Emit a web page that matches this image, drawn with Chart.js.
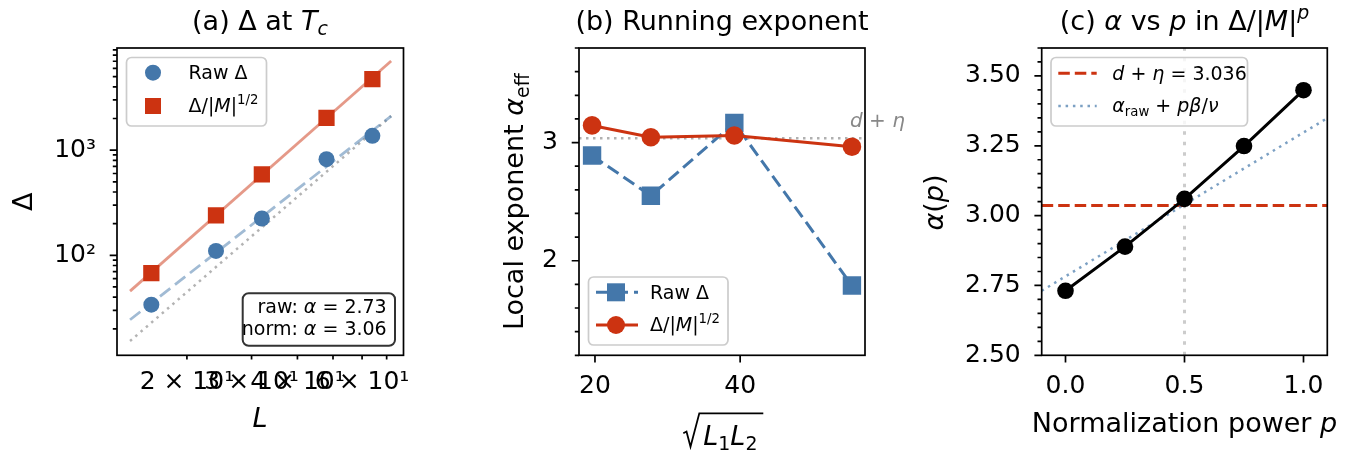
<!DOCTYPE html>
<html>
<head>
<meta charset="utf-8">
<script src="https://cdn.jsdelivr.net/npm/chart.js@4.4.0/dist/chart.umd.min.js"></script>
<style>
  html, body { margin: 0; padding: 0; background: #fff; }
  #wrap { position: relative; width: 1353px; height: 451px; }
  canvas { position: absolute; left: 0; top: 0; }
</style>
</head>
<body>
<div id="wrap">
  <canvas id="panelA" width="1353" height="451"></canvas>
  <canvas id="panelB" width="1353" height="451"></canvas>
  <canvas id="panelC" width="1353" height="451"></canvas>
</div>
<script>
const BLUE = '#4477aa';
const RED = '#cc3311';
const FONT = 'DejaVu Sans';
const W = 1353, H = 451;
const YW = 110, XH = 50;

// (a) gap at Tc vs L
const L_SIZES = [16, 24, 32, 48, 64];
const DELTA_RAW = [33.9, 110, 224, 821, 1368];
const DELTA_NORM = [67.8, 240, 588, 2030, 4740];
const FIT_L = [14, 72];
const FIT_RAW = [24.4, 2110];
const FIT_NORM = [45.7, 7050];
const FIT_REF = [15.3, 2110];
const A_XTICKS = [20, 30, 40, 60];
const A_XLABELS = ['2 × 10¹', '3 × 10¹', '4 × 10¹', '6 × 10¹'];
const A_XMINOR = [20, 30, 40, 50, 60, 70];
const A_YTICKS = [100, 1000];
const A_YLABELS = ['10²', '10³'];
const A_YMINOR = [20, 30, 40, 50, 60, 70, 80, 90, 200, 300, 400, 500, 600, 700, 800, 900,
                  2000, 3000, 4000, 5000, 6000, 7000, 8000, 9000];

// (b) running exponent
const L_MID = [19.6, 27.7, 39.2, 55.4];
const ALPHA_LOC_RAW = [2.89, 2.55, 3.165, 1.79];
const ALPHA_LOC_NORM = [3.145, 3.045, 3.06, 2.965];
const D_PLUS_ETA = 3.036;
const B_XRANGE = [17.8, 57.2];
const B_XTICKS = [20, 40];
const B_YTICKS = [2, 3];
const B_YMINOR = [1.2, 1.4, 1.6, 1.8, 2.2, 2.4, 2.6, 2.8, 3.2, 3.4, 3.6, 3.8];

// (c) alpha vs normalization power
const P_VALUES = [0, 0.25, 0.5, 0.75, 1.0];
const ALPHA_P = [2.731, 2.889, 3.06, 3.249, 3.449];
const PRED_P = [-0.1, 1.1];
const PRED_ALPHA = [2.731, 3.349];
const C_XTICKS = [0, 0.5, 1.0];
const C_YTICKS = [2.5, 2.75, 3.0, 3.25, 3.5];
const C_YMINOR = [2.55, 2.6, 2.65, 2.7, 2.8, 2.85, 2.9, 2.95, 3.05, 3.1, 3.15, 3.2,
                  3.3, 3.35, 3.4, 3.45, 3.55, 3.6];

function pts(xs, ys) {
    return xs.map((x, i) => ({x: x, y: ys[i]}));
}

// text with italic / super / subscript pieces: [text, flags]
function setFont(ctx, flags, size) {
    const small = flags.includes('^') || flags.includes('_');
    const s = small ? size * 0.7 : size;
    ctx.font = (flags.includes('i') ? 'italic ' : '') + s + 'px "' + FONT + '"';
}

function drawRich(ctx, parts, x, y, align, size, color) {
    let w = 0;
    parts.forEach(p => { setFont(ctx, p[1] || '', size); w += ctx.measureText(p[0]).width; });
    let cx = align === 'center' ? x - w / 2 : (align === 'right' ? x - w : x);
    ctx.fillStyle = color;
    ctx.textAlign = 'left';
    ctx.textBaseline = 'alphabetic';
    parts.forEach(p => {
        const f = p[1] || '';
        setFont(ctx, f, size);
        const dy = f.includes('^') ? -size * 0.42 : (f.includes('_') ? size * 0.2 : 0);
        ctx.fillText(p[0], cx, y + dy);
        cx += ctx.measureText(p[0]).width;
    });
}

function drawRotated(ctx, parts, x, y, size) {
    ctx.save();
    ctx.translate(x, y);
    ctx.rotate(-Math.PI / 2);
    drawRich(ctx, parts, 0, 0, 'center', size, '#000');
    ctx.restore();
}

function drawFrame(chart) {
    const {ctx, chartArea: a} = chart;
    ctx.save();
    ctx.strokeStyle = '#000';
    ctx.lineWidth = 1.7;
    ctx.strokeRect(a.left, a.top, a.right - a.left, a.bottom - a.top);
    ctx.restore();
}

function drawTickMarks(chart, axis, values, len) {
    const {ctx, chartArea: a} = chart;
    const s = chart.scales[axis];
    ctx.save();
    ctx.strokeStyle = '#000';
    ctx.lineWidth = 1.7;
    ctx.beginPath();
    values.forEach(v => {
        const p = s.getPixelForValue(v);
        if (axis === 'x') { ctx.moveTo(p, a.bottom); ctx.lineTo(p, a.bottom + len); }
        else { ctx.moveTo(a.left, p); ctx.lineTo(a.left - len, p); }
    });
    ctx.stroke();
    ctx.restore();
}

function roundBox(ctx, x, y, w, h, r, fill, stroke, lw) {
    ctx.save();
    ctx.beginPath();
    ctx.moveTo(x + r, y);
    ctx.arcTo(x + w, y, x + w, y + h, r);
    ctx.arcTo(x + w, y + h, x, y + h, r);
    ctx.arcTo(x, y + h, x, y, r);
    ctx.arcTo(x, y, x + w, y, r);
    ctx.closePath();
    ctx.fillStyle = fill;
    ctx.fill();
    ctx.strokeStyle = stroke;
    ctx.lineWidth = lw;
    ctx.stroke();
    ctx.restore();
}

function sampleLine(ctx, x0, x1, y, color, lw, dash) {
    ctx.save();
    ctx.strokeStyle = color;
    ctx.lineWidth = lw;
    ctx.setLineDash(dash);
    ctx.beginPath();
    ctx.moveTo(x0, y);
    ctx.lineTo(x1, y);
    ctx.stroke();
    ctx.restore();
}

function dot(ctx, x, y, r, color) {
    ctx.fillStyle = color;
    ctx.beginPath();
    ctx.arc(x, y, r, 0, Math.PI * 2);
    ctx.fill();
}

function square(ctx, x, y, side, color) {
    ctx.fillStyle = color;
    ctx.fillRect(x - side / 2, y - side / 2, side, side);
}

function axisOpts(type, min, max, majors, labels, pad, horizontal) {
    return {
        type: type,
        min: min,
        max: max,
        grid: {display: false, drawTicks: false},
        border: {display: false},
        afterBuildTicks: s => { s.ticks = majors.map(v => ({value: v})); },
        afterFit: s => { if (horizontal) s.height = XH; else s.width = YW; },
        ticks: {
            autoSkip: false,
            maxRotation: 0,
            minRotation: 0,
            padding: pad,
            color: '#000',
            font: {family: FONT, size: 25},
            callback: (v, i) => labels[i]
        }
    };
}

function layoutFor(left, right, top, bottom) {
    return {padding: {left: left - YW, right: W - right, top: top, bottom: H - bottom - XH}};
}

const baseOpts = {
    responsive: false,
    animation: false,
    events: [],
    plugins: {legend: {display: false}, tooltip: {enabled: false}, title: {display: false}}
};

// ---------- (a)
new Chart(document.getElementById('panelA'), {
    type: 'scatter',
    data: {
        datasets: [
            {data: pts(L_SIZES, DELTA_NORM), pointStyle: 'rect', pointRadius: 11.5,
             pointBackgroundColor: RED, pointBorderWidth: 0},
            {data: pts(L_SIZES, DELTA_RAW), pointStyle: 'circle', pointRadius: 8,
             pointBackgroundColor: BLUE, pointBorderWidth: 0},
            {data: pts(FIT_L, FIT_NORM), showLine: true, borderColor: 'rgba(204,51,17,0.5)',
             borderWidth: 2.8, pointRadius: 0},
            {data: pts(FIT_L, FIT_RAW), showLine: true, borderColor: 'rgba(68,119,170,0.5)',
             borderWidth: 2.8, borderDash: [13, 6], pointRadius: 0},
            {data: pts(FIT_L, FIT_REF), showLine: true, borderColor: 'rgba(128,128,128,0.6)',
             borderWidth: 2.5, borderDash: [2.5, 4.5], pointRadius: 0}
        ]
    },
    options: Object.assign({}, baseOpts, {
        layout: layoutFor(117, 403.5, 48, 355.3),
        scales: {
            x: axisOpts('logarithmic', 12.9, 77.8, A_XTICKS, A_XLABELS, 12, true),
            y: axisOpts('logarithmic', 11.2, 9360, A_YTICKS, A_YLABELS, 21, false)
        }
    }),
    plugins: [{
        id: 'decorA',
        afterDraw(chart) {
            const ctx = chart.ctx;
            drawFrame(chart);
            drawTickMarks(chart, 'x', A_XMINOR, 4.2);
            drawTickMarks(chart, 'y', A_YTICKS, 7.3);
            drawTickMarks(chart, 'y', A_YMINOR, 4.2);
            drawRich(ctx, [['(a) Δ at '], ['T', 'i'], ['c', 'i_']], 260, 30, 'center', 27, '#000');
            drawRich(ctx, [['L', 'i']], 260, 426.5, 'center', 27, '#000');
            drawRotated(ctx, [['Δ']], 31.7, 201.7, 27);
            // legend
            roundBox(ctx, 126.5, 57.5, 140, 68.5, 5, 'rgba(255,255,255,0.8)', '#cccccc', 1.7);
            dot(ctx, 153, 72.7, 8, BLUE);
            drawRich(ctx, [['Raw Δ']], 188.5, 78.5, 'left', 19, '#000');
            square(ctx, 153, 106, 16, RED);
            drawRich(ctx, [['Δ/|'], ['M', 'i'], ['|'], ['1/2', '^']], 188.5, 111.7, 'left', 19, '#000');
            // fit box
            roundBox(ctx, 242.7, 293.3, 152.3, 52.4, 6, '#fff', '#333333', 2);
            drawRich(ctx, [['raw: '], ['α', 'i'], [' = 2.73']], 386.7, 313, 'right', 19, '#000');
            drawRich(ctx, [['norm: '], ['α', 'i'], [' = 3.06']], 386.7, 335, 'right', 19, '#000');
        }
    }]
});

// ---------- (b)
new Chart(document.getElementById('panelB'), {
    type: 'scatter',
    data: {
        datasets: [
            {data: pts(L_MID, ALPHA_LOC_NORM), showLine: true, borderColor: RED, borderWidth: 3,
             pointStyle: 'circle', pointRadius: 9.3, pointBackgroundColor: RED, pointBorderWidth: 0},
            {data: pts(L_MID, ALPHA_LOC_RAW), showLine: true, borderColor: BLUE, borderWidth: 3,
             borderDash: [13, 6], pointStyle: 'rect', pointRadius: 13,
             pointBackgroundColor: BLUE, pointBorderWidth: 0},
            {data: pts(B_XRANGE, [D_PLUS_ETA, D_PLUS_ETA]), showLine: true, borderColor: '#b0b0b0',
             borderWidth: 2.5, borderDash: [2.5, 4.5], pointRadius: 0}
        ]
    },
    options: Object.assign({}, baseOpts, {
        layout: layoutFor(579, 865, 48, 355.3),
        scales: {
            x: axisOpts('linear', B_XRANGE[0], B_XRANGE[1], B_XTICKS, B_XTICKS.map(String), 16, true),
            y: axisOpts('linear', 1.2, 3.8, B_YTICKS, B_YTICKS.map(String), 21, false)
        }
    }),
    plugins: [{
        id: 'decorB',
        afterDraw(chart) {
            const ctx = chart.ctx;
            drawFrame(chart);
            drawTickMarks(chart, 'x', B_XTICKS, 7.3);
            drawTickMarks(chart, 'y', B_YTICKS, 7.3);
            drawTickMarks(chart, 'y', B_YMINOR, 4.2);
            drawRich(ctx, [['(b) Running exponent']], 722, 30, 'center', 27, '#000');
            drawRotated(ctx, [['Local exponent '], ['α', 'i'], ['eff', '_']], 523.3, 201.7, 27);
            drawRich(ctx, [['d', 'i'], [' + '], ['η', 'i']], 850, 127, 'left', 20, '#888888');
            // sqrt(L1 L2)
            ctx.save();
            ctx.strokeStyle = '#000';
            ctx.lineWidth = 1.8;
            ctx.beginPath();
            ctx.moveTo(683.3, 433.3);
            ctx.lineTo(686.5, 431.5);
            ctx.lineTo(690.5, 446.7);
            ctx.lineTo(699.3, 413.3);
            ctx.lineTo(763.3, 413.3);
            ctx.stroke();
            ctx.restore();
            drawRich(ctx, [['L', 'i'], ['1', '_'], ['L', 'i'], ['2', '_']], 703.3, 445, 'left', 27, '#000');
            // legend
            roundBox(ctx, 588.5, 277, 139.5, 68, 5, 'rgba(255,255,255,0.8)', '#cccccc', 1.7);
            sampleLine(ctx, 596, 638, 292.3, BLUE, 3, [13, 6]);
            square(ctx, 616, 292.3, 18, BLUE);
            drawRich(ctx, [['Raw Δ']], 650, 298.5, 'left', 19, '#000');
            sampleLine(ctx, 596, 638, 325, RED, 3, []);
            dot(ctx, 616, 325, 9, RED);
            drawRich(ctx, [['Δ/|'], ['M', 'i'], ['|'], ['1/2', '^']], 650, 330.5, 'left', 19, '#000');
        }
    }]
});

// ---------- (c)
new Chart(document.getElementById('panelC'), {
    type: 'scatter',
    data: {
        datasets: [
            {data: pts(P_VALUES, ALPHA_P), showLine: true, borderColor: '#000', borderWidth: 3,
             pointStyle: 'circle', pointRadius: 8.3, pointBackgroundColor: '#000', pointBorderWidth: 0},
            {data: pts(PRED_P, PRED_ALPHA), showLine: true, borderColor: 'rgba(68,119,170,0.7)',
             borderWidth: 2.5, borderDash: [2.5, 4.8], pointRadius: 0},
            {data: pts(PRED_P, [D_PLUS_ETA, D_PLUS_ETA]), showLine: true, borderColor: RED,
             borderWidth: 3, borderDash: [11.5, 5], pointRadius: 0},
            {data: pts([0.5, 0.5], [2.5, 3.6]), showLine: true, borderColor: '#cccccc',
             borderWidth: 3, borderDash: [3.5, 7], pointRadius: 0}
        ]
    },
    options: Object.assign({}, baseOpts, {
        layout: layoutFor(1041.7, 1327.3, 48, 355.3),
        scales: {
            x: axisOpts('linear', -0.1, 1.1, C_XTICKS, C_XTICKS.map(v => v.toFixed(1)), 16, true),
            y: axisOpts('linear', 2.5, 3.6, C_YTICKS, C_YTICKS.map(v => v.toFixed(2)), 21, false)
        }
    }),
    plugins: [{
        id: 'decorC',
        afterDraw(chart) {
            const ctx = chart.ctx;
            drawFrame(chart);
            drawTickMarks(chart, 'x', C_XTICKS, 7.3);
            drawTickMarks(chart, 'y', C_YTICKS, 7.3);
            drawTickMarks(chart, 'y', C_YMINOR, 4.2);
            drawRich(ctx, [['(c) '], ['α', 'i'], [' vs '], ['p', 'i'], [' in Δ/|'], ['M', 'i'], ['|'], ['p', 'i^']],
                     1184.5, 30, 'center', 27, '#000');
            drawRich(ctx, [['Normalization power '], ['p', 'i']], 1184.5, 431.7, 'center', 27, '#000');
            drawRotated(ctx, [['α', 'i'], ['('], ['p', 'i'], [')']], 943.2, 202.5, 27);
            // legend
            roundBox(ctx, 1051, 57.5, 196.5, 68.5, 5, 'rgba(255,255,255,0.8)', '#cccccc', 1.7);
            sampleLine(ctx, 1058.3, 1096.7, 73.3, RED, 3, [11.5, 5]);
            drawRich(ctx, [['d', 'i'], [' + '], ['η', 'i'], [' = 3.036']], 1112.3, 79.5, 'left', 19, '#000');
            sampleLine(ctx, 1058.3, 1096.7, 106, 'rgba(68,119,170,0.7)', 2.5, [2.5, 4.8]);
            drawRich(ctx, [['α', 'i'], ['raw', '_'], [' + '], ['pβ', 'i'], ['/'], ['ν', 'i']],
                     1112.3, 112, 'left', 19, '#000');
        }
    }]
});
</script>
</body>
</html>
